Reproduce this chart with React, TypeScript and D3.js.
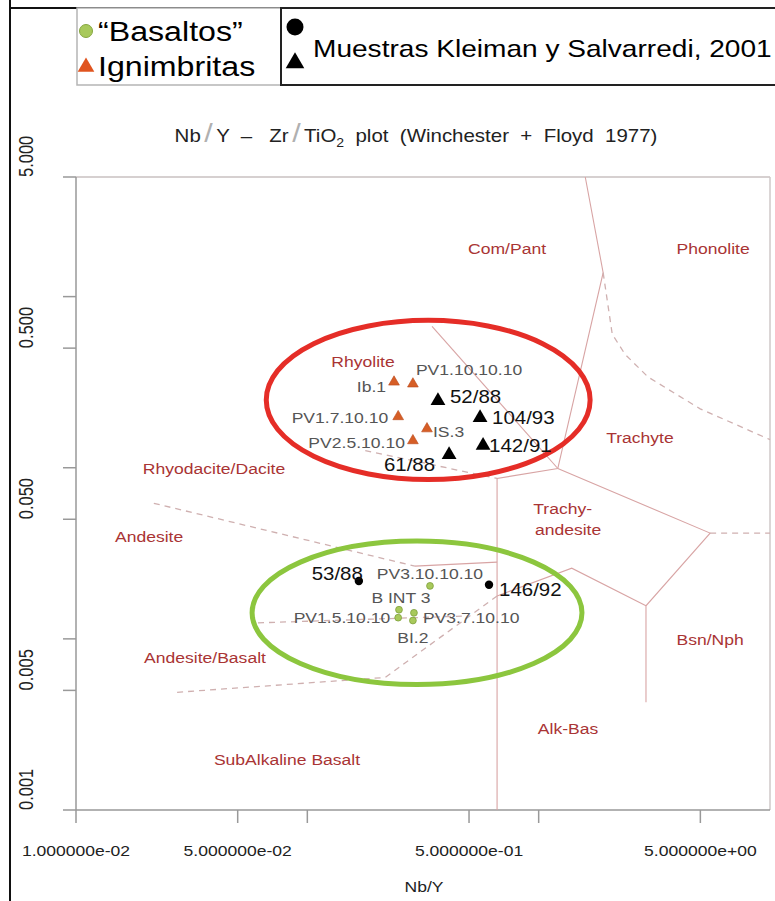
import React from 'react';
import * as d3 from 'd3';

const W = 775;
const H = 901;
const SX = 1.17; // the scanned figure is stretched sideways, text follows it
const FONT = 'Liberation Sans, Arial, Helvetica, sans-serif';

// samples, Nb/Y (x) against Zr/TiO2 (y)
const basaltos = [
  { name: 'PV3.10.10.10', nbY: 0.339, zrTi: 0.0204 },
  { name: 'B INT 3', nbY: 0.249, zrTi: 0.0148 },
  { name: 'PV1.5.10.10', nbY: 0.247, zrTi: 0.0133 },
  { name: 'PV3.7.10.10', nbY: 0.289, zrTi: 0.0142 },
  { name: 'BI.2', nbY: 0.286, zrTi: 0.0128 },
];

const ignimbritas = [
  { name: 'Ib.1', nbY: 0.237, zrTi: 0.317 },
  { name: 'PV1.10.10.10', nbY: 0.286, zrTi: 0.309 },
  { name: 'PV1.7.10.10', nbY: 0.247, zrTi: 0.199 },
  { name: 'IS.3', nbY: 0.329, zrTi: 0.169 },
  { name: 'PV2.5.10.10', nbY: 0.286, zrTi: 0.144 },
];

const kleimanTriangles = [
  { name: '52/88', nbY: 0.367, zrTi: 0.246 },
  { name: '104/93', nbY: 0.558, zrTi: 0.196 },
  { name: '142/91', nbY: 0.575, zrTi: 0.135 },
  { name: '61/88', nbY: 0.41, zrTi: 0.119 },
];

const kleimanDots = [
  { name: '53/88', nbY: 0.167, zrTi: 0.0218 },
  { name: '146/92', nbY: 0.61, zrTi: 0.0207 },
];

// Winchester & Floyd (1977) field boundaries, [Nb/Y, Zr/TiO2]
const solidBoundaries: [number, number][][] = [
  [[1.59, 5], [1.9, 1.38], [1.21, 0.099]],
  [[0.346, 0.671], [1.21, 0.099]],
  [[1.21, 0.099], [0.661, 0.0866], [0.661, 0.001]],
  [[1.21, 0.099], [5.51, 0.0415], [2.91, 0.0156], [2.91, 0.00426]],
  [[2.91, 0.0156], [1.39, 0.0259], [0.661, 0.0178]],
  [[0.292, 0.0266], [0.661, 0.0281]],
];

const dashedBoundaries: [number, number][][] = [
  [[1.9, 1.38], [2.08, 0.603], [2.36, 0.461], [2.97, 0.339], [4.99, 0.221], [10, 0.146]],
  [[5.51, 0.0415], [10, 0.0415]],
  [[0.178, 0.126], [0.661, 0.0866]],
  [[0.0217, 0.062], [0.292, 0.0266]],
  [[0.0612, 0.0124], [0.485, 0.0136]],
  [[0.661, 0.0178], [0.217, 0.00595], [0.0271, 0.00487]],
];

const fieldLabels = [
  { text: 'Com/Pant', nbY: 0.73, zrTi: 1.78 },
  { text: 'Phonolite', nbY: 5.68, zrTi: 1.78 },
  { text: 'Rhyolite', nbY: 0.174, zrTi: 0.388 },
  { text: 'Trachyte', nbY: 2.74, zrTi: 0.14 },
  { text: 'Rhyodacite/Dacite', nbY: 0.0395, zrTi: 0.0925 },
  { text: 'Andesite', nbY: 0.0207, zrTi: 0.0367 },
  { text: 'Trachy-', nbY: 1.27, zrTi: 0.0535 },
  { text: 'andesite', nbY: 1.34, zrTi: 0.0404 },
  { text: 'Bsn/Nph', nbY: 5.51, zrTi: 0.00926 },
  { text: 'Andesite/Basalt', nbY: 0.0361, zrTi: 0.00727 },
  { text: 'Alk-Bas', nbY: 1.34, zrTi: 0.00277 },
  { text: 'SubAlkaline Basalt', nbY: 0.0817, zrTi: 0.00183 },
];

// hand-drawn groupings: centre and half axes in decades
const groupEllipses = [
  { nbY: 0.333, zrTi: 0.249, dx: 0.7, dy: 0.465, color: '#e52d27' },
  { nbY: 0.298, zrTi: 0.0142, dx: 0.713, dy: 0.419, color: '#8cc63e' },
];

const xTicks = [0.01, 0.05, 0.1, 0.5, 1, 5];
const xTickLabels = ['1.000000e-02', '5.000000e-02', '', '5.000000e-01', '', '5.000000e+00'];
const yTicks = [5, 1, 0.5, 0.1, 0.05, 0.01, 0.005, 0.001];
const yTickLabels = ['5.000', '', '0.500', '', '0.050', '', '0.005', '0.001'];

// label placement next to each point: dx, dy, anchor
const labelPos: Record<string, [number, number, string]> = {
  'Ib.1': [-8, 10, 'end'],
  'PV1.10.10.10': [3, -9, 'start'],
  'PV1.7.10.10': [-10, 6, 'end'],
  'IS.3': [6, 8, 'start'],
  'PV2.5.10.10': [-8, 7, 'end'],
  '52/88': [12, 2, 'start'],
  '104/93': [12, 6, 'start'],
  '142/91': [6, 7, 'start'],
  '61/88': [-14, 16, 'end'],
  '53/88': [4, -1, 'end'],
  '146/92': [10, 11, 'start'],
  'PV3.10.10.10': [0, -7, 'middle'],
  'B INT 3': [2, -7, 'middle'],
  'PV1.5.10.10': [-8, 5, 'end'],
  'PV3.7.10.10': [9, 10, 'start'],
  'BI.2': [0, 22, 'middle'],
};

const T = ({ x, y, size, fill = '#000', anchor = 'start', rotate = 0, children }: any) => (
  <text
    transform={`translate(${x},${y}) scale(${SX},1)${rotate ? ` rotate(${rotate})` : ''}`}
    fontSize={size}
    fill={fill}
    textAnchor={anchor}
    fontFamily={FONT}
    style={{ whiteSpace: 'pre' }}
  >
    {children}
  </text>
);

const App: React.FC = () => {
  const x = d3.scaleLog().domain([0.01, 10]).range([76, 770]);
  const y = d3.scaleLog().domain([0.001, 5]).range([810, 177]);
  const line = d3.line<[number, number]>().x(d => x(d[0])).y(d => y(d[1]));
  const triSmall = d3.symbol(d3.symbolTriangle, 50)() || '';
  const triBig = d3.symbol(d3.symbolTriangle, 95)() || '';

  const pointLabel = (d: { name: string; nbY: number; zrTi: number }, size: number, fill: string) => {
    const [dx, dy, anchor] = labelPos[d.name];
    return (
      <T key={'l' + d.name} x={x(d.nbY) + dx} y={y(d.zrTi) + dy} size={size} fill={fill} anchor={anchor}>
        {d.name}
      </T>
    );
  };

  return (
    <svg width={W} height={H} style={{ position: 'absolute', left: 0, top: 0, background: '#fff' }}>
      <rect width={W} height={H} fill="#fff" />

      {/* outer frame and legend */}
      <line x1={10} y1={0} x2={10} y2={H} stroke="#111" strokeWidth={2} />
      <line x1={10} y1={8} x2={W} y2={8} stroke="#111" strokeWidth={2} />
      <rect x={77} y={8} width={204} height={77} fill="#fff" stroke="#b5b5b5" strokeWidth={1.5} />
      <rect x={281} y={8} width={500} height={77} fill="#fff" stroke="#222" strokeWidth={2} />
      <circle cx={86} cy={31} r={6.5} fill="#a8c95b" stroke="#86a640" strokeWidth={1} />
      <path d={d3.symbol(d3.symbolTriangle, 120)() || ''} transform="translate(86,67)" fill="#e0541f" />
      <T x={98} y={41} size={27.5}>“Basaltos”</T>
      <T x={98} y={76} size={27.5}>Ignimbritas</T>
      <circle cx={295} cy={27} r={8.5} fill="#000" />
      <path d={d3.symbol(d3.symbolTriangle, 150)() || ''} transform="translate(295,63)" fill="#000" />
      <T x={313} y={57} size={24}>Muestras Kleiman y Salvarredi, 2001</T>

      {/* title */}
      <T x={416} y={142} size={17.5} anchor="middle" fill="#222">
        Nb
        <tspan fill="#b0b0b0" fontSize={26} dx={3}>/</tspan>
        <tspan dx={3}>{'Y  –   Zr'}</tspan>
        <tspan fill="#b0b0b0" fontSize={26} dx={3}>/</tspan>
        <tspan dx={3}>TiO</tspan>
        <tspan fontSize={12} dy={5}>2</tspan>
        <tspan dy={-5}>{'  plot  (Winchester  +  Floyd  1977)'}</tspan>
      </T>

      {/* plot frame */}
      <line x1={76} y1={177} x2={770} y2={177} stroke="#c9c0c0" strokeWidth={1.5} />
      <line x1={770} y1={177} x2={770} y2={810} stroke="#cfc8c8" strokeWidth={1.5} />
      <line x1={76} y1={177} x2={76} y2={810} stroke="#999" strokeWidth={1.5} />
      <line x1={76} y1={810} x2={770} y2={810} stroke="#999" strokeWidth={1.5} />

      {xTicks.map((t, i) => (
        <g key={'xt' + t}>
          <line x1={x(t)} x2={x(t)} y1={810} y2={823} stroke="#999" strokeWidth={1.5} />
          {xTickLabels[i] && (
            <T x={x(t)} y={856} size={15} anchor="middle" fill="#222">{xTickLabels[i]}</T>
          )}
        </g>
      ))}
      {yTicks.map((t, i) => (
        <g key={'yt' + t}>
          <line x1={63} x2={76} y1={y(t)} y2={y(t)} stroke="#999" strokeWidth={1.5} />
          {yTickLabels[i] && (
            <T x={33} y={y(t)} size={16.5} rotate={-90} fill="#222">{yTickLabels[i]}</T>
          )}
        </g>
      ))}
      <T x={424} y={892} size={15} anchor="middle" fill="#222">Nb/Y</T>

      {/* field boundaries */}
      {solidBoundaries.map((b, i) => (
        <path key={'s' + i} d={line(b) || ''} fill="none" stroke="#d8a4a4" strokeWidth={1.1} />
      ))}
      {dashedBoundaries.map((b, i) => (
        <path key={'d' + i} d={line(b) || ''} fill="none" stroke="#cfb0b0" strokeWidth={1.3} strokeDasharray="6,5" />
      ))}
      {fieldLabels.map(f => (
        <T key={f.text} x={x(f.nbY)} y={y(f.zrTi)} size={15} anchor="middle" fill="#a93434">{f.text}</T>
      ))}

      {/* group ellipses */}
      {groupEllipses.map((e, i) => (
        <ellipse
          key={'e' + i}
          cx={x(e.nbY)}
          cy={y(e.zrTi)}
          rx={x(e.nbY * Math.pow(10, e.dx)) - x(e.nbY)}
          ry={y(e.zrTi) - y(e.zrTi * Math.pow(10, e.dy))}
          fill="none"
          stroke={e.color}
          strokeWidth={5}
        />
      ))}

      {/* samples */}
      {ignimbritas.map(d => (
        <path key={d.name} d={triSmall} transform={`translate(${x(d.nbY)},${y(d.zrTi)})`} fill="#d65e26" stroke="#b9471a" strokeWidth={0.6} />
      ))}
      {kleimanTriangles.map(d => (
        <path key={d.name} d={triBig} transform={`translate(${x(d.nbY)},${y(d.zrTi)})`} fill="#000" />
      ))}
      {kleimanDots.map(d => (
        <circle key={d.name} cx={x(d.nbY)} cy={y(d.zrTi)} r={4.2} fill="#000" />
      ))}
      {basaltos.map(d => (
        <circle key={d.name} cx={x(d.nbY)} cy={y(d.zrTi)} r={3.4} fill="#a8c95b" stroke="#7f9f3c" strokeWidth={0.8} />
      ))}

      {ignimbritas.map(d => pointLabel(d, 15, '#555'))}
      {basaltos.map(d => pointLabel(d, 15, '#555'))}
      {kleimanTriangles.map(d => pointLabel(d, 17.5, '#111'))}
      {kleimanDots.map(d => pointLabel(d, 17.5, '#111'))}
    </svg>
  );
};

export default App;
